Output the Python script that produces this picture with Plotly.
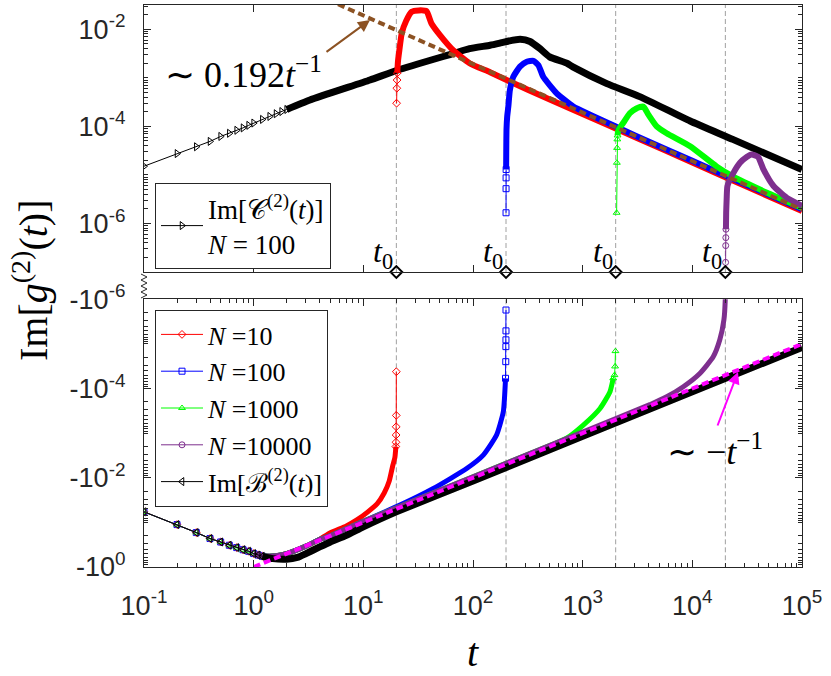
import plotly.graph_objects as go
import math

# ---------------- data ----------------
t0_list = [20, 200, 2000, 20000]

# top panel: Im[C^(2)(t)], N = 100
c_t_sparse = [0.1, 0.2, 0.3, 0.4, 0.5, 0.6, 0.7, 0.8, 0.9, 1.0, 1.2, 1.4, 1.6, 1.8, 2.0]
c_v_sparse = [1.51e-5, 2.75e-5, 3.8e-5, 4.9e-5, 6.2e-5, 7.2e-5, 8.3e-5, 9.3e-5, 1.05e-4, 1.17e-4,
              1.39e-4, 1.60e-4, 1.82e-4, 2.02e-4, 2.23e-4]
c_t = [2.0, 3.26, 11.5, 20.7, 66, 93, 143, 176, 203, 269, 331, 407, 500, 716, 822, 1660, 3310, 9550, 23400, 100000]
c_v = [2.23e-4, 3.5e-4, 9.0e-4, 1.45e-3, 3.16e-3, 3.98e-3, 4.7e-3, 5.2e-3, 5.6e-3, 6.2e-3, 5.6e-3,
       4.0e-3, 2.7e-3, 2.0e-3, 1.66e-3, 7.6e-4, 4.1e-4, 1.29e-4, 5.4e-5, 1.29e-5]

# top panel: positive parts of the N series
r_top_t_m = [20.1, 20.2, 20.3, 20.4]
r_top_v_m = [3.0e-4, 6.1e-4, 9.0e-4, 1.26e-3]
r_top_t = [20.4, 20.7, 21.3, 22.4, 24.6, 27.6, 32, 37.7, 41.8, 50, 66, 93, 143, 316, 1000, 3160, 10000, 31600, 100000]
r_top_v = [1.26e-3, 2.2e-3, 3.7e-3, 8.3e-3, 1.5e-2, 2.3e-2, 2.45e-2, 2.35e-2, 1.32e-2, 7.6e-3, 3.7e-3,
           2.0e-3, 1.3e-3, 5.7e-4, 1.8e-4, 5.7e-5, 1.8e-5, 5.7e-6, 1.8e-6]

b_top_t_m = [200.1, 200.2, 200.3, 200.5]
b_top_v_m = [1.66e-6, 5.2e-6, 8.7e-6, 1.29e-5]
b_top_t = [200.5, 201, 202, 205, 210, 217, 233, 268, 309, 355, 395, 437, 580, 822, 1167, 3000, 10000, 30000, 100000]
b_top_v = [1.29e-5, 3.0e-5, 8.5e-5, 1.6e-4, 2.57e-4, 5.6e-4, 1.05e-3, 1.7e-3, 2.14e-3, 2.24e-3, 1.82e-3,
           1.05e-3, 4.8e-4, 2.57e-4, 1.74e-4, 6.5e-5, 1.95e-5, 6.5e-6, 1.95e-6]

g_top_t_m = [2040, 2050, 2060, 2070, 2080]
g_top_v_m = [1.66e-6, 1.78e-5, 3.6e-5, 5.4e-5, 6.5e-5]
g_top_t = [2080, 2120, 2340, 2690, 3090, 3570, 3980, 4730, 5830, 9550, 16600, 23400, 47900, 100000]
g_top_v = [6.5e-5, 8.5e-5, 1.17e-4, 1.86e-4, 2.34e-4, 2.55e-4, 1.74e-4, 1.0e-4, 7.2e-5, 3.9e-5,
           1.5e-5, 9.3e-6, 4.3e-6, 2.1e-6]

p_top_t_m = [20100, 20150, 20200, 20250]
p_top_v_m = [1.58e-7, 3.5e-7, 5.1e-7, 7.6e-7]
p_top_t = [20250, 20350, 20560, 20900, 23700, 27200, 31300, 34700, 39800, 44400, 55000, 72400, 100000]
p_top_v = [7.6e-7, 1.66e-6, 3.2e-6, 5.9e-6, 1.1e-5, 1.78e-5, 2.34e-5, 2.63e-5, 2.34e-5, 1.32e-5,
           5.9e-6, 3.4e-6, 2.3e-6]

fit_top_t = [5.88, 100000]
fit_top_v = [0.0327, 1.92e-6]

# bottom panel (negative values)
early_t = [0.1, 0.2, 0.3, 0.4, 0.5, 0.6, 0.7, 0.8, 0.9, 1.0, 1.1, 1.2]
early_v = [-0.058, -0.112, -0.169, -0.23, -0.275, -0.326, -0.367, -0.41, -0.445, -0.50, -0.54, -0.575]

bB_t = [1.2, 1.5, 2.0, 2.5, 3, 4, 5, 7, 10, 20, 100, 1000, 10000, 100000]
bB_v = [-0.575, -0.65, -0.67, -0.61, -0.50, -0.355, -0.275, -0.195, -0.126, -0.058, -0.0118,
        -1.18e-3, -1.18e-4, -1.2e-5]

r_bot_t = [1.0, 1.2, 1.5, 2.0, 3.0, 4.0, 5.0, 7.0, 8.8, 11, 13.4, 15.5, 17.2, 18.5, 19.4, 19.8]
r_bot_v = [-0.5, -0.56, -0.57, -0.5, -0.34, -0.24, -0.17, -0.12, -0.087, -0.058, -0.038, -0.022,
           -0.012, -5.5e-3, -3.5e-3, -2.0e-3]
r_bot_t_m = [19.8, 19.85, 19.9, 19.93, 19.96, 19.99]
r_bot_v_m = [-2.0e-3, -1.6e-3, -1.1e-3, -7.2e-4, -4.0e-4, -4.2e-5]

b_bot_t = [1.0, 1.2, 1.5, 2.0, 3.0, 4.0, 5.0, 10, 21.6, 43.5, 87.5, 124, 164, 189, 198]
b_bot_v = [-0.5, -0.56, -0.57, -0.5, -0.34, -0.24, -0.2, -0.095, -0.041, -0.0174, -6.2e-3, -3.1e-3,
           -1.1e-3, -3.3e-4, -5.9e-5]
b_bot_t_m = [198, 199, 199.5, 199.7, 199.8, 199.9]
b_bot_v_m = [-5.9e-5, -2.5e-5, -1.15e-5, -8.1e-6, -5.1e-6, -1.74e-6]

g_bot_t = [1.0, 1.2, 1.5, 2, 3, 4, 5, 10, 100, 500, 714, 1013, 1440, 1775, 1900]
g_bot_v = [-0.5, -0.56, -0.57, -0.5, -0.34, -0.24, -0.2, -0.095, -0.0095, -1.9e-3, -1.3e-3, -6.6e-4,
           -2.8e-4, -1.18e-4, -5.9e-5]
g_bot_t_m = [1900, 1950, 1975, 1990]
g_bot_v_m = [-5.9e-5, -5.0e-5, -3.2e-5, -1.45e-5]

p_bot_t = [1, 1.2, 1.5, 2, 3, 4, 5, 10, 100, 1000, 4100, 5840, 8270, 11700, 15500, 17800, 19400, 19950, 20000]
p_bot_v = [-0.5, -0.56, -0.57, -0.5, -0.34, -0.24, -0.2, -0.095, -0.0095, -9.5e-4, -2.3e-4, -1.53e-4,
           -9.1e-5, -4.6e-5, -1.95e-5, -8.1e-6, -2.9e-6, -1.04e-6, -5e-7]

fit_bot_t = [1, 100000]
fit_bot_v = [-1, -1e-5]

x_ticks = [0.1, 1, 10, 100, 1000, 10000, 100000]
x_ticktext = ["10<sup>-1</sup>", "10<sup>0</sup>", "10<sup>1</sup>", "10<sup>2</sup>",
              "10<sup>3</sup>", "10<sup>4</sup>", "10<sup>5</sup>"]
y_top_ticks = [1e-6, 1e-4, 1e-2]
y_top_ticktext = ["10<sup>-6</sup>", "10<sup>-4</sup>", "10<sup>-2</sup>"]
y_bot_ticks = [1e-6, 1e-4, 1e-2, 1]
y_bot_ticktext = ["-10<sup>-6</sup>", "-10<sup>-4</sup>", "-10<sup>-2</sup>", "-10<sup>0</sup>"]

# ---------------- layout helpers ----------------
W, H = 831, 676
L, R, T, B = 144, 29, 5, 109
PW, PH = W - L - R, H - T - B


def px(xp):
    return (xp - L) / PW


def py(yp):
    return (H - B - yp) / PH


RED, BLUE, GREEN, PURPLE = '#FF0000', '#0000FF', '#00FF00', '#7E2F8E'
BROWN, MAGENTA = '#8C5223', '#FF00FF'
AX = '#262626'
SERIF = 'Liberation Serif, Times New Roman, serif'

fig = go.Figure()


def neg(vals):
    return [-v for v in vals]


# t0 dashed lines
for xa, ya, lo, hi in [('x', 'y', 1e-7, 10 ** -1.5), ('x2', 'y2', 1e-6, 1.0)]:
    xs, ys = [], []
    for t0 in t0_list:
        xs += [t0, t0, None]
        ys += [lo, hi, None]
    fig.add_trace(go.Scatter(x=xs, y=ys, mode='lines', xaxis=xa, yaxis=ya, showlegend=False,
                             line=dict(color='#A0A0A0', width=1, dash='5px,3px'), hoverinfo='skip'))

THICK = 6

# ---- top panel ----
fig.add_trace(go.Scatter(x=c_t_sparse, y=c_v_sparse, mode='lines+markers', xaxis='x', yaxis='y',
                         line=dict(color='black', width=1),
                         marker=dict(symbol='triangle-right-open', size=7, color='black', line=dict(width=1)),
                         name='Im[𝒞<sup>(2)</sup>(<i>t</i>)]<br><i>N</i> = 100', legend='legend'))
fig.add_trace(go.Scatter(x=c_t, y=c_v, mode='lines', xaxis='x', yaxis='y', showlegend=False,
                         line=dict(color='black', width=THICK + 1, shape='spline', smoothing=0.5)))

for col, sym, tm, vm, tt, vv in [
        (RED, 'diamond-open', r_top_t_m, r_top_v_m, r_top_t, r_top_v),
        (BLUE, 'square-open', b_top_t_m, b_top_v_m, b_top_t, b_top_v),
        (GREEN, 'triangle-up-open', g_top_t_m, g_top_v_m, g_top_t, g_top_v),
        (PURPLE, 'circle-open', p_top_t_m, p_top_v_m, p_top_t, p_top_v)]:
    fig.add_trace(go.Scatter(x=tm, y=vm, mode='lines+markers', xaxis='x', yaxis='y', showlegend=False,
                             line=dict(color=col, width=1),
                             marker=dict(symbol=sym, size=6, color=col, line=dict(width=1))))
    fig.add_trace(go.Scatter(x=tt, y=vv, mode='lines', xaxis='x', yaxis='y', showlegend=False,
                             line=dict(color=col, width=THICK, shape='spline', smoothing=0.5)))

fig.add_trace(go.Scatter(x=fit_top_t, y=fit_top_v, mode='lines', xaxis='x', yaxis='y', showlegend=False,
                         line=dict(color=BROWN, width=4, dash='7px,4px')))

# t0 diamonds on the top panel's bottom axis
fig.add_trace(go.Scatter(x=t0_list, y=[1e-7] * len(t0_list), mode='markers', xaxis='x', yaxis='y',
                         showlegend=False, cliponaxis=False,
                         marker=dict(symbol='diamond-open', size=9, color='black', line=dict(width=2))))

# ---- bottom panel ----
series_bot = [
    (RED, 'diamond-open', '<i>N</i> =10', r_bot_t, r_bot_v, r_bot_t_m, r_bot_v_m),
    (BLUE, 'square-open', '<i>N</i> =100', b_bot_t, b_bot_v, b_bot_t_m, b_bot_v_m),
    (GREEN, 'triangle-up-open', '<i>N</i> =1000', g_bot_t, g_bot_v, g_bot_t_m, g_bot_v_m),
    (PURPLE, 'circle-open', '<i>N</i> =10000', p_bot_t, p_bot_v, None, None),
]
for col, sym, name, tt, vv, tm, vm in series_bot:
    fig.add_trace(go.Scatter(x=early_t, y=neg(early_v), mode='lines+markers', xaxis='x2', yaxis='y2',
                             line=dict(color=col, width=1), name=name, legend='legend2',
                             marker=dict(symbol=sym, size=6, color=col, line=dict(width=1))))
    fig.add_trace(go.Scatter(x=tt, y=neg(vv), mode='lines', xaxis='x2', yaxis='y2', showlegend=False,
                             line=dict(color=col, width=THICK - 1, shape='spline', smoothing=0.5)))
    if tm is not None:
        fig.add_trace(go.Scatter(x=tm, y=neg(vm), mode='lines+markers', xaxis='x2', yaxis='y2',
                                 showlegend=False, line=dict(color=col, width=1),
                                 marker=dict(symbol=sym, size=6, color=col, line=dict(width=1))))

fig.add_trace(go.Scatter(x=early_t, y=neg(early_v), mode='lines+markers', xaxis='x2', yaxis='y2',
                         line=dict(color='black', width=1), name='Im[ℬ<sup>(2)</sup>(<i>t</i>)]',
                         legend='legend2',
                         marker=dict(symbol='triangle-left-open', size=7, color='black', line=dict(width=1))))
fig.add_trace(go.Scatter(x=bB_t, y=neg(bB_v), mode='lines', xaxis='x2', yaxis='y2', showlegend=False,
                         line=dict(color='black', width=THICK + 1, shape='spline', smoothing=0.5)))
fig.add_trace(go.Scatter(x=fit_bot_t, y=neg(fit_bot_v), mode='lines', xaxis='x2', yaxis='y2',
                         showlegend=False, line=dict(color=MAGENTA, width=4, dash='7px,4px')))

# ---------------- axes ----------------
tickfont = dict(family='Liberation Sans, Arial, sans-serif', size=27, color=AX)
common = dict(type='log', showline=True, linecolor=AX, linewidth=1.3, mirror='allticks', ticks='inside',
              ticklen=7, tickwidth=1, tickcolor=AX, showgrid=False, zeroline=False, tickfont=tickfont,
              automargin=False)

x_minor = [k * 10 ** e for e in range(-1, 5) for k in range(2, 10)]
y_top_minor = [k * 10 ** e for e in range(-7, -1) for k in range(1, 10)
               if not (k == 1 and e in (-6, -4, -2))]
y_bot_minor = [k * 10 ** e for e in range(-6, 0) for k in range(1, 10)
               if not (k == 1 and e in (-6, -4, -2))]
minor_style = dict(ticks='inside', ticklen=4, tickwidth=1, tickcolor=AX, showgrid=False)

legend_common = dict(xanchor='left', yanchor='top', bgcolor='white', bordercolor=AX, borderwidth=1,
                     tracegroupgap=0, itemwidth=42)

fig.update_layout(
    template='none',
    width=W, height=H, margin=dict(l=L, r=R, t=T, b=B, autoexpand=False), autosize=False,
    plot_bgcolor='white', paper_bgcolor='white',
    xaxis=dict(common, domain=[0, 1], anchor='y', range=[-1, 5], tickmode='array', tickvals=x_ticks,
               showticklabels=False),
    yaxis=dict(common, domain=[py(272), 1], anchor='x', range=[-7, -1.5], tickmode='array',
               tickvals=y_top_ticks, ticktext=y_top_ticktext, ticklabelstandoff=12,
               minor=dict(minor_style, tickmode='array', tickvals=y_top_minor)),
    xaxis2=dict(common, domain=[0, 1], anchor='y2', range=[-1, 5], tickmode='array', tickvals=x_ticks,
                ticktext=x_ticktext, ticklabelstandoff=14,
                minor=dict(minor_style, tickmode='array', tickvals=x_minor)),
    yaxis2=dict(common, domain=[0, py(299.3)], anchor='x2', range=[0, -6], tickmode='array',
                tickvals=y_bot_ticks, ticktext=y_bot_ticktext, ticklabelstandoff=12,
                minor=dict(minor_style, tickmode='array', tickvals=y_bot_minor)),
    legend=dict(legend_common, x=px(155), y=py(183), font=dict(family=SERIF, size=27, color='black')),
    legend2=dict(legend_common, x=px(155), y=py(310), font=dict(family=SERIF, size=26, color='black')),
)

# ---------------- annotations ----------------
ann = []
ctr = dict(xanchor='center', yanchor='middle', xref='paper', yref='paper')
ann.append(dict(ctr, text='∼ 0.192<i>t</i><sup>−1</sup>', x=px(243), y=py(72),
                showarrow=False, font=dict(family=SERIF, size=36, color='black')))
ann.append(dict(text='', x=px(370), y=py(20), xref='paper', yref='paper', ax=-45, ay=33,
                showarrow=True, arrowhead=2, arrowsize=1.2, arrowwidth=2, arrowcolor=BROWN))
ann.append(dict(ctr, text='∼ −<i>t</i><sup>−1</sup>', x=px(715), y=py(450),
                showarrow=False, font=dict(family=SERIF, size=36, color='black')))
ann.append(dict(text='', x=px(738), y=py(372), xref='paper', yref='paper', ax=-21, ay=55,
                showarrow=True, arrowhead=2, arrowsize=1.2, arrowwidth=2, arrowcolor=MAGENTA))
for t0 in t0_list:
    ann.append(dict(text='<i>t</i><sub>0</sub>', x=math.log10(t0), y=py(254), xref='x', yref='paper',
                    xanchor='center', yanchor='middle',
                    xshift=-13, showarrow=False, font=dict(family=SERIF, size=32, color='black')))
ann.append(dict(ctr, text='Im[<i>g</i><sup>(2)</sup>(<i>t</i>)]', x=px(30), y=py(280),
                textangle=-90, showarrow=False, font=dict(family=SERIF, size=40, color='black')))
ann.append(dict(ctr, text='<i>t</i>', x=px(473), y=py(652), showarrow=False,
                font=dict(family=SERIF, size=40, color='black')))
fig.update_layout(annotations=ann)

# axis break marker (zigzag) on the left between the panels
pts = []
ys = [274 + 3 * i for i in range(9)]
for i, yp in enumerate(ys):
    xp = 141 if i % 2 == 0 else 147
    pts.append(f"{px(xp):.5f},{py(yp):.5f}")
path = 'M' + ' L'.join(pts)
fig.add_shape(type='path', path=path, xref='paper', yref='paper', line=dict(color=AX, width=1))

fig.write_html('out.html', config={'displayModeBar': False},
               post_script="document.body.style.margin='0';document.body.style.overflow='hidden';")
